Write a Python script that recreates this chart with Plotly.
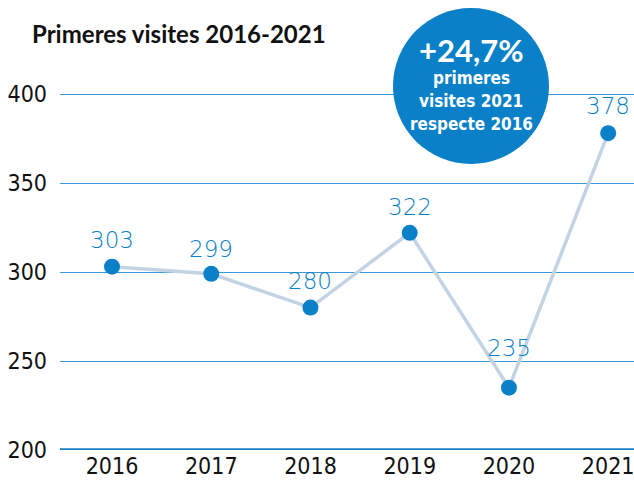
import plotly.graph_objects as go

years = ["2016", "2017", "2018", "2019", "2020", "2021"]
visits = [303, 299, 280, 322, 235, 378]
y_ticks = [200, 250, 300, 350, 400]

title_text = "Primeres visites 2016-2021"
badge_value = "+24,7%"
badge_lines = ["primeres", "visites 2021", "respecte 2016"]

BLUE = "#0a80c8"
GRID = "#3b9ad8"
LINE = "#c3d3e3"
NARROW = "DejaVu Sans Condensed, Liberation Sans Narrow, Roboto, sans-serif"

x_idx = list(range(len(years)))

fig = go.Figure()
fig.add_trace(go.Scatter(
    x=x_idx, y=visits, mode="lines+markers",
    line=dict(color=LINE, width=3.5),
    marker=dict(color=BLUE, size=16),
    hoverinfo="skip", showlegend=False,
))

# value labels above each point (the 2020 dip sits a bit higher to clear the line)
label_shift = [27, 25, 27, 26, 40, 27]
for xi, v, s in zip(x_idx, visits, label_shift):
    fig.add_annotation(x=xi, y=v, text=str(v), showarrow=False,
                       xanchor="center", yanchor="middle", yshift=s,
                       font=dict(family="DejaVu Sans", size=23, weight=200, color=BLUE))

# baseline at the axis minimum
fig.add_shape(type="line", xref="paper", yref="y", x0=0, x1=1, y0=200, y1=200,
              line=dict(color="#1a7fc2", width=3.5), layer="above")

# highlight badge
cx = (471 - 60) / 574
fig.add_shape(type="circle", xref="paper", yref="paper",
              x0=(393 - 60) / 574, x1=(549 - 60) / 574,
              y0=(450 - 164) / 430, y1=(450 - 8) / 430,
              fillcolor=BLUE, line=dict(width=0), layer="above")
fig.add_annotation(xref="paper", yref="paper", x=cx, y=(450 - 50) / 430,
                   xanchor="center", yanchor="middle",
                   text="<b>" + badge_value + "</b>", showarrow=False,
                   font=dict(family="Lato, sans-serif", size=31, color="white"))
for i, ln in enumerate(badge_lines):
    fig.add_annotation(xref="paper", yref="paper", x=cx,
                       y=(450 - (78 + 23 * i)) / 430,
                       xanchor="center", yanchor="middle",
                       text="<b>" + ln + "</b>", showarrow=False,
                       font=dict(family=NARROW, size=17, color="white"))

fig.update_layout(
    width=634, height=495,
    margin=dict(l=60, r=0, t=20, b=45),
    paper_bgcolor="white", plot_bgcolor="white",
    title=dict(text="<b>" + title_text + "</b>", x=32 / 634, xanchor="left",
               y=1 - 35 / 495, yanchor="middle",
               font=dict(family="Lato, sans-serif", size=24, color="#111111")),
    xaxis=dict(range=[-0.524, 5.26], tickvals=x_idx, ticktext=years,
               showgrid=False, zeroline=False, showline=False, ticks="",
               ticklabeloverflow="allow",
               tickfont=dict(family=NARROW, size=23, color="#111111")),
    yaxis=dict(range=[200, 441.6], tickvals=y_ticks, showgrid=True,
               gridcolor=GRID, gridwidth=1, zeroline=False, showline=False,
               ticks="", ticklabelstandoff=12,
               tickfont=dict(family=NARROW, size=23, color="#111111")),
)

fig.write_html("out.html")
